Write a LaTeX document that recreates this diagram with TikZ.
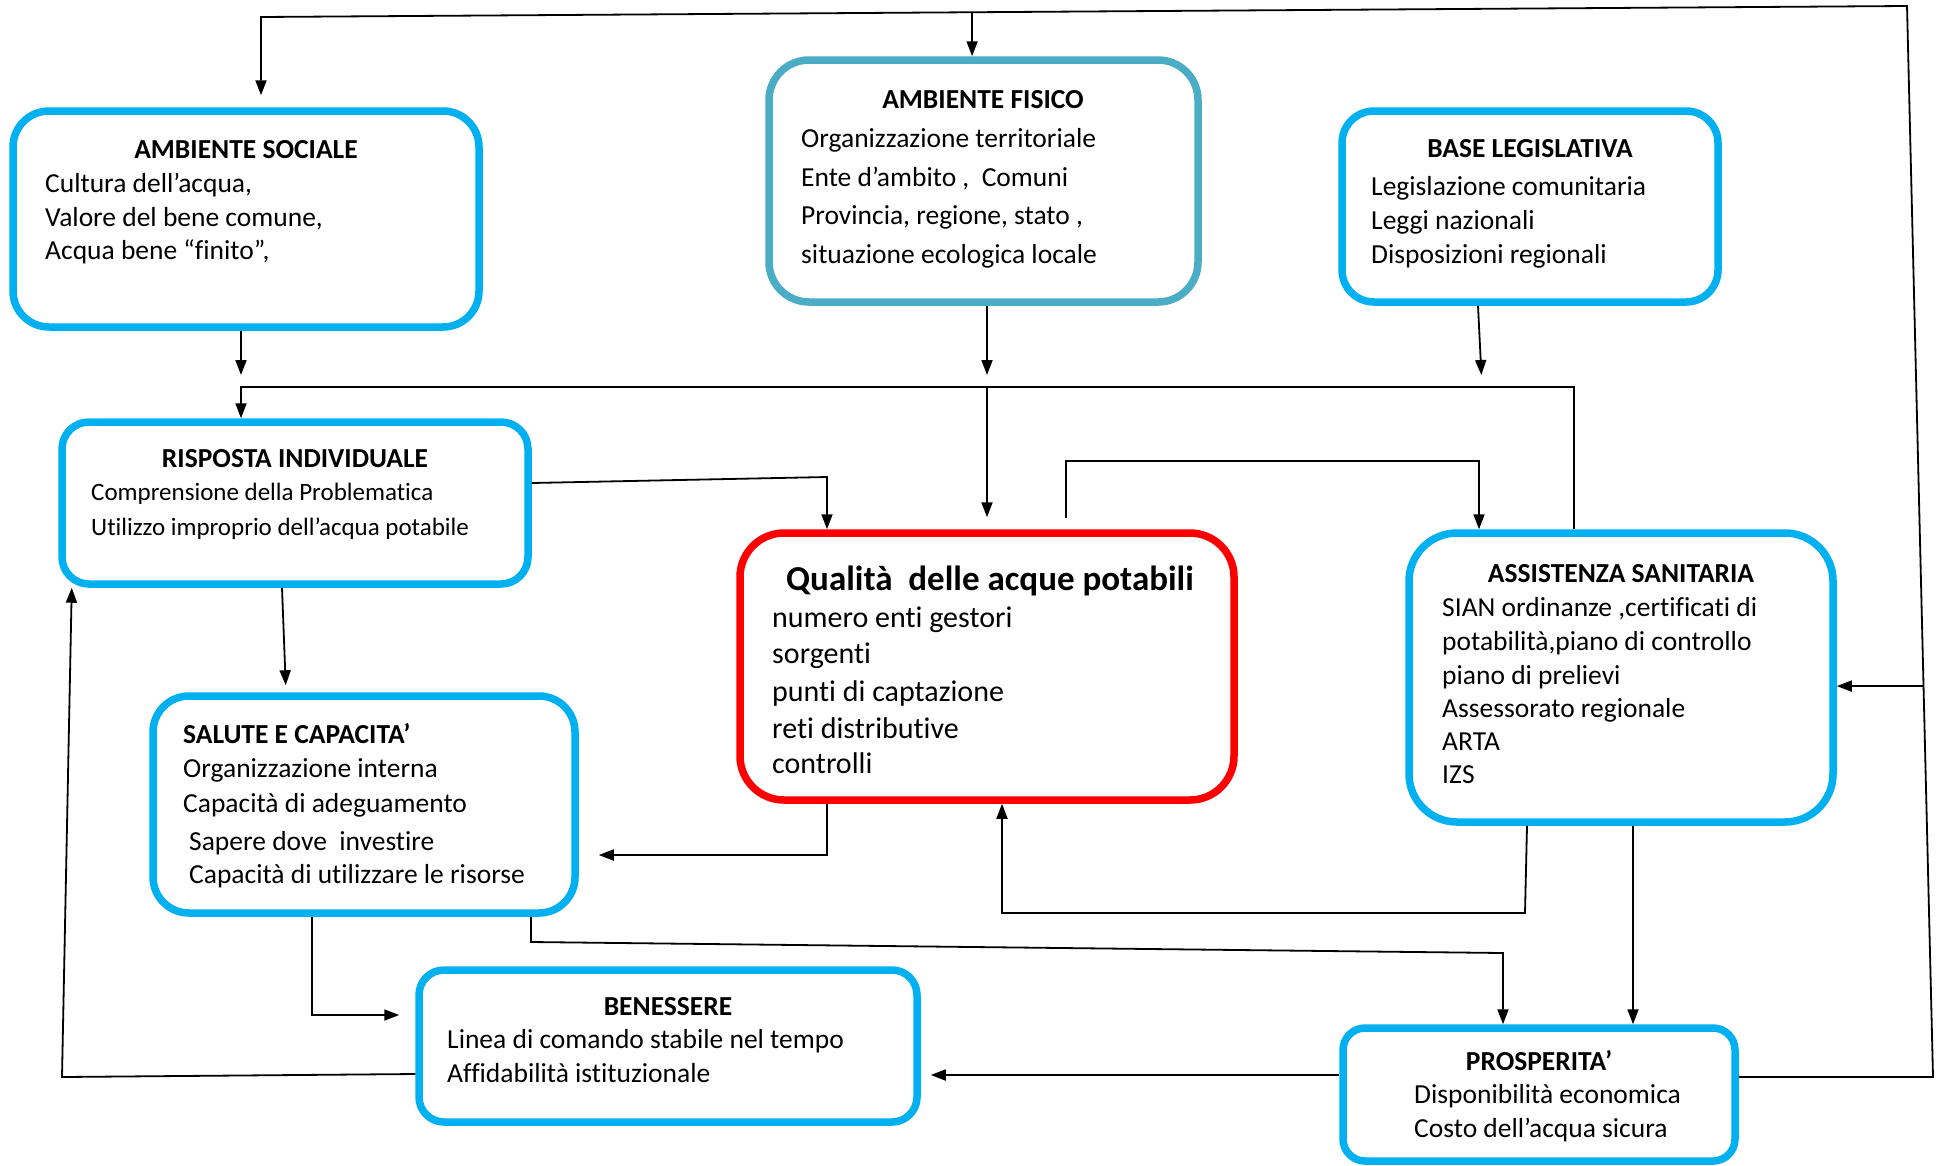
\documentclass[tikz,border=0pt]{standalone}
\usepackage{fontspec}
\setmainfont{Carlito}[Ligatures={TeX,NoCommon,NoContextual,NoRare,NoDiscretionary},Contextuals=NoAlternate]
\usetikzlibrary{arrows.meta,calc}
\definecolor{boxblue}{HTML}{00B0F0}
\definecolor{boxteal}{HTML}{4BACC6}
\definecolor{boxred}{HTML}{FF0000}
\begin{document}
\begin{tikzpicture}[x=1pt,y=-1pt,
  panel/.style={draw=boxblue, line width=7.5pt, fill=white, rectangle, inner sep=0pt},
  lbl/.style={inner sep=0pt, anchor=base west, font=\fontsize{27.5}{33}\selectfont},
  small/.style={lbl, font=\fontsize{25}{30}\selectfont},
  large/.style={lbl, font=\fontsize{30}{36}\selectfont},
  hdr/.style={inner sep=0pt, anchor=base, font=\fontsize{27.5}{33}\selectfont\bfseries},
  link/.style={draw=black, line width=1.8pt, -{Triangle[length=15pt,width=11pt]}},
]
\useasboundingbox (0,0) rectangle (1942,1165);
\fill[white] (0,0) rectangle (1942,1165);

% ---------- boxes ----------
\node[panel, minimum width=466pt, minimum height=216pt, rounded corners=36pt] (soc) at (246,219) {};
\node[panel, draw=boxteal, minimum width=429pt, minimum height=242pt, rounded corners=40pt] (fis) at (983.5,181) {};
\node[panel, minimum width=376pt, minimum height=191pt, rounded corners=32pt] (leg) at (1530,206.5) {};
\node[panel, minimum width=466pt, minimum height=162pt, rounded corners=27pt] (risp) at (295,503) {};
\node[panel, draw=boxred, minimum width=494pt, minimum height=267pt, rounded corners=44pt] (qual) at (987,666.5) {};
\node[panel, minimum width=424pt, minimum height=289pt, rounded corners=48pt] (ass) at (1621,677.5) {};
\node[panel, minimum width=422pt, minimum height=217pt, rounded corners=36pt] (sal) at (364,804.5) {};
\node[panel, minimum width=498pt, minimum height=152pt, rounded corners=25pt] (ben) at (668,1046) {};
\node[panel, minimum width=392pt, minimum height=133pt, rounded corners=22pt] (pros) at (1539,1094.5) {};

% ---------- texts ----------
\node[hdr] (soc-t) at (246,158) {AMBIENTE SOCIALE};
\node[lbl] (soc-1) at (45,192) {Cultura dell’acqua,};
\node[lbl] (soc-2) at (45,226) {Valore del bene comune,};
\node[lbl] (soc-3) at (45,259) {Acqua bene “finito”,};

\node[hdr] (fis-t) at (983,108) {AMBIENTE FISICO};
\node[lbl] (fis-1) at (801,147) {Organizzazione territoriale};
\node[lbl] (fis-2) at (801,186) {Ente d’ambito ,\ \ Comuni};
\node[lbl] (fis-3) at (801,224) {Provincia, regione, stato ,};
\node[lbl] (fis-4) at (801,263) {situazione ecologica locale};

\node[hdr] (leg-t) at (1530,157) {BASE LEGISLATIVA};
\node[lbl] (leg-1) at (1371,195) {Legislazione comunitaria};
\node[lbl] (leg-2) at (1371,229) {Leggi nazionali};
\node[lbl] (leg-3) at (1371,263) {Disposizioni regionali};

\node[hdr] (risp-t) at (295,467) {RISPOSTA INDIVIDUALE};
\node[small] (risp-1) at (91,500) {Comprensione della Problematica};
\node[small] (risp-2) at (91,535) {Utilizzo improprio dell’acqua potabile};

\node[lbl, font=\fontsize{35}{42}\selectfont\bfseries] (qual-t) at (786,590) {Qualità\ \ delle acque potabili};
\node[large] (qual-1) at (772,627) {numero enti gestori};
\node[large] (qual-2) at (772,663) {sorgenti};
\node[large] (qual-3) at (772,701) {punti di captazione};
\node[large] (qual-4) at (772,738) {reti distributive};
\node[large] (qual-5) at (772,773) {controlli};

\node[hdr] (ass-t) at (1621,582) {ASSISTENZA SANITARIA};
\node[lbl] (ass-1) at (1442,616) {SIAN ordinanze ,certificati di};
\node[lbl] (ass-2) at (1442,650) {potabilità,piano di controllo};
\node[lbl] (ass-3) at (1442,684) {piano di prelievi};
\node[lbl] (ass-4) at (1442,717) {Assessorato regionale};
\node[lbl] (ass-5) at (1442,750) {ARTA};
\node[lbl] (ass-6) at (1442,783) {IZS};

\node[lbl, font=\fontsize{27.5}{33}\selectfont\bfseries] (sal-t) at (183,743) {SALUTE E CAPACITA’};
\node[lbl] (sal-1) at (183,777) {Organizzazione interna};
\node[lbl] (sal-2) at (183,812) {Capacità di adeguamento};
\node[lbl] (sal-3) at (189,850) {Sapere dove\ \ investire};
\node[lbl] (sal-4) at (189,883) {Capacità di utilizzare le risorse};

\node[hdr] (ben-t) at (668,1015) {BENESSERE};
\node[lbl] (ben-1) at (447,1048) {Linea di comando stabile nel tempo};
\node[lbl] (ben-2) at (447,1082) {Affidabilità istituzionale};

\node[hdr] (pros-t) at (1539,1070) {PROSPERITA’};
\node[lbl] (pros-1) at (1414,1103) {Disponibilità economica};
\node[lbl] (pros-2) at (1414,1137) {Costo dell’acqua sicura};

% ---------- outer feedback loop ----------
\coordinate (cR1) at (1933,1077);
\coordinate (cR2) at (1907,6);
\coordinate (cTL) at (261,17);
\coordinate (cT1) at ($(cR2)!0.568!(cTL)$);
\coordinate (cA) at ($(cR1)!0.365!(cR2)$);
\draw[link, shorten >=12pt] (pros.east |- cR1) -- (cR1) -- (cR2) -- (cTL) -- (soc.north -| cTL);
\draw[link] (cT1) -- (fis.north -| cT1);
\draw[link] (cA) -- (ass.east |- cA);

% ---------- distribution bus ----------
\coordinate (cB0) at (241,387);
\coordinate (cB2) at (987,387);
\coordinate (cB3) at (1482,387);
\coordinate (cB4) at (1574,387);
\draw[link, shorten >=12pt] (soc.south -| cB0) -- (cB0);
\draw[link, shorten >=12pt] (fis.south -| cB2) -- (cB2);
\draw[link, shorten >=12pt] ($(leg.south)+(-52,0)$) -- (cB3);
\draw[link] (ass.north -| cB4) -- (cB4) -- (cB0) -- (risp.north -| cB0);
\draw[link, shorten >=12pt] (cB2) -- (qual.north -| cB2);

% ---------- inner connectors ----------
\coordinate (cR3s) at (528,483);
\coordinate (cR3) at (827,477);
\draw[link] (risp.east |- cR3s) -- (cR3) -- (qual.north -| cR3);

\draw[link, shorten >=7pt] ($(risp.south)+(-13,0)$) -- ($(sal.north)+(-78,0)$);

\coordinate (qs) at ($(qual.north)+(79,-11)$);
\coordinate (cQ1) at (1066,461);
\coordinate (cQ2) at (1479,461);
\draw[link] (qs) -- (cQ1) -- (cQ2) -- (ass.north -| cQ2);

\coordinate (cS1) at (827,855);
\draw[link, shorten >=20pt] (qual.south -| cS1) -- (cS1) -- (sal.east |- cS1);

\coordinate (cA2) at (1525,913);
\coordinate (cA3) at (1002,913);
\draw[link] ($(ass.south)+(-94,0)$) -- (cA2) -- (cA3) -- (qual.south -| cA3);

\coordinate (cP) at (1633,950);
\draw[link] (ass.south -| cP) -- (pros.north -| cP);

\coordinate (cS2) at (531,942);
\coordinate (cS3) at (1503,953);
\draw[link] (sal.south -| cS2) -- (cS2) -- (cS3) -- (pros.north -| cS3);

\coordinate (cS4) at (312,1015);
\draw[link, shorten >=16pt] (sal.south -| cS4) -- (cS4) -- (ben.west |- cS4);

\coordinate (cL0) at (419,1074);
\coordinate (cL1) at (62,1077);
\draw[link] (ben.west |- cL0) -- (cL1) -- ($(risp.south west)+(13.5,0)$);

\coordinate (cPB) at (1200,1075);
\draw[link, shorten >=10pt] (pros.west |- cPB) -- (ben.east |- cPB);
\end{tikzpicture}
\end{document}
